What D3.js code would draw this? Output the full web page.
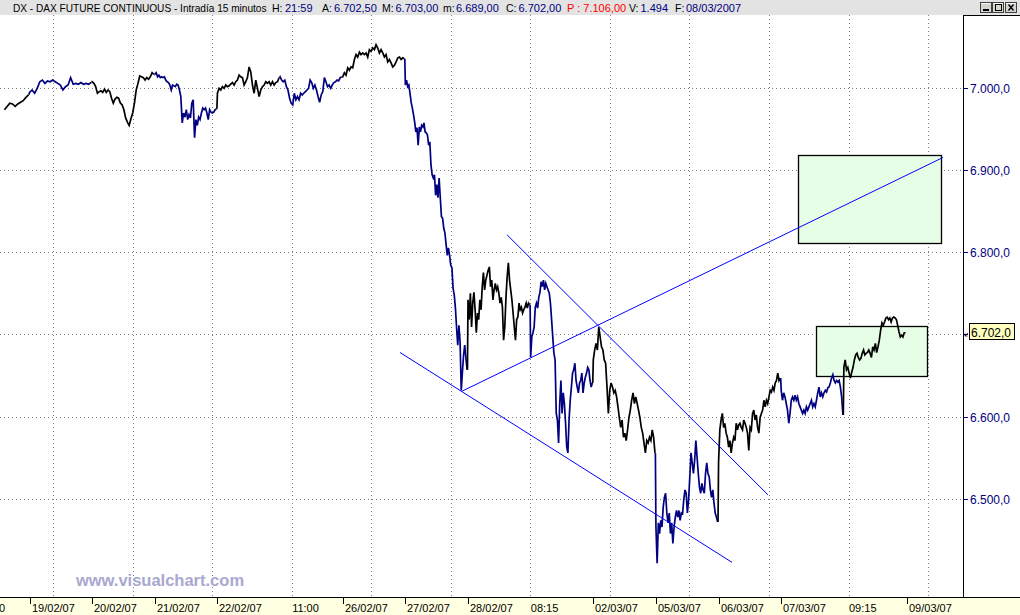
<!DOCTYPE html>
<html><head><meta charset="utf-8">
<script src="https://cdn.jsdelivr.net/npm/d3@7"></script>
<style>html,body{margin:0;padding:0;background:#fff;overflow:hidden}svg{display:block}</style>
</head><body>
<svg id="c" width="1020" height="615"></svg>
<script>
// ---------- DATA ----------
const sessionDates = ["16/02/07","19/02/07","20/02/07","21/02/07","22/02/07","23/02/07","26/02/07","27/02/07","28/02/07","01/03/07","02/03/07","05/03/07","06/03/07","07/03/07","08/03/07"];
const s1602 = [6973,6977,6981,6980,6977,6980,6982,6984,6988,6991];
const s1902 = [6994,6997,6993,6999,7007,7009,7005,7008,7007,7009,7007,7005,7003,6997,7001,7003,7012,7004,7005,7004,7006,7004,7005,7004,7006];
const s2002 = [7007,7005,7001,6993,6995,6996,6994,6998,6994,6997,6995,6987,6981,6986,6988,6987,6981,6979,6973,6963,6958,6954,6962,6969,6981,6997,7005,7014,7013,7012,7009,7012,7010,7013,7018,7016];
const s2102 = [7016,7018,7013,7015,7012,7013,7012,7013,7009,7007,7006,7003,6997,7003,7002,7001,7004,7003,6997,6989,6957,6969,6964,6973,6961,6967,6963,6981,6985,6939,6961,6954,6964,6961,6969,6975,6973,6975,6969,6961,6973,6970,6969,6970,6973,6974];
const s2202 = [6993,6999,6997,7001,6999,7003,7001,7002,7004,7006,7003,7007,7009,7015,7013,7012,7003,7007,7012,7025,7019,7003,6993,7009,6999,6989,6997,7001,7003,7007,7005,7007,7003,7007,7003,7006,7007,7012];
const s2302 = [7013,7009,7007,7009,7001,6997,6987,6981,6979,6993,6985,6989,6985,6993,6991,6993,6995,6997,6999,7009,7006,6999,7003,6997,6989,6982,6991,6995,7012,7007,7001,7003,6999,7003,7006,7007,7009,7008,7012,7013];
const s2602 = [7013,7018,7015,7024,7021,7025,7024,7034,7040,7037,7043,7040,7042,7040,7042,7037,7046,7044,7048,7046,7052,7048,7042,7046,7042,7037,7040,7031,7034,7030,7025,7027,7031,7036,7037,7034,7036,7035];
const s2702 = [7003,7009,7001,7003,6993,6982,6975,6967,6958,6946,6951,6930,6952,6946,6954,6952,6957,6946,6945,6942,6930,6934,6906,6894,6890,6894,6869,6882,6866,6890,6866,6843,6841,6829,6823,6809,6796,6805,6796,6784,6781,6756,6748,6732,6708,6687,6711,6691,6632,6654,6675,6687,6671,6657];
const s2802 = [6742,6718,6750,6709,6738,6751,6730,6702,6726,6718,6742,6730,6758,6775,6754,6766,6772,6778,6782,6758,6766,6742,6754,6762,6754,6758,6750,6738,6745,6733,6693,6709,6745,6770,6787,6766,6754,6742,6726,6709,6693,6718,6721,6738,6730,6733,6726,6730,6733,6738,6732,6738,6736];
const s0103 = [6672,6697,6702,6709,6733,6738,6732,6745,6751,6764,6758,6766,6754,6762,6758,6754,6750,6738,6718,6697,6677,6669,6604,6596,6568,6616,6644,6604,6629,6616,6592,6563,6556,6596,6620,6636,6653,6657,6665,6644,6636,6629,6641,6644,6653,6629,6641,6648,6653,6660,6657,6644,6636,6641];
const s0203 = [6669,6681,6689,6681,6709,6697,6685,6681,6669,6665,6636,6604,6632,6641,6636,6629,6632,6624,6612,6599,6587,6596,6575,6580,6571,6584,6599,6608,6620,6629,6616,6624,6616,6608,6599,6587,6580,6568,6556,6571,6568,6575,6571,6584,6575,6556];
const s0503 = [6466,6422,6471,6458,6474,6466,6490,6502,6507,6483,6471,6483,6458,6471,6446,6466,6478,6486,6478,6486,6474,6483,6482,6499,6511,6507,6483,6499,6527,6556,6544,6531,6547,6571,6551,6531,6514,6507,6519,6511,6507,6531,6544,6531,6527,6511,6502,6511,6495,6483,6478,6472];
const s0603 = [6545,6584,6596,6604,6587,6592,6580,6575,6563,6571,6556,6568,6575,6571,6592,6584,6590,6592,6587,6584,6596,6592,6587,6580,6559,6587,6584,6604,6608,6596,6602,6587,6580,6599,6604,6608,6620,6612,6620,6616,6624,6632,6630,6636,6632,6641,6644,6653,6644,6647];
const s0703 = [6632,6620,6629,6624,6616,6608,6592,6604,6620,6624,6620,6626,6620,6624,6616,6612,6608,6604,6608,6604,6612,6608,6612,6616,6620,6612,6616,6612,6620,6629,6636,6624,6629,6624,6629,6632,6630,6635,6636,6641,6647,6651,6644,6641,6644,6642,6644,6636,6624,6602];
const s0803 = [6660,6669,6657,6660,6653,6647,6654,6660,6669,6675,6677,6672,6669,6671,6677,6681,6675,6677,6678,6681,6677,6672,6685,6681,6689,6678,6685,6693,6705,6714,6711,6715,6720,6721,6718,6720,6715,6720,6721,6720,6718,6711,6703,6697,6699,6697,6702,6702];
const sessionValues = [s1602,s1902,s2002,s2102,s2202,s2302,s2602,s2702,s2802,s0103,s0203,s0503,s0603,s0703,s0803];

const yTicks = [6500,6600,6700,6800,6900,7000];
const yTickLabels = ["6.500,0","6.600,0","6.700,0","6.800,0","6.900,0","7.000,0"];
const lastValueLabel = "6.702,0";
const lastValue = 6702;

// date ticks (day index: 0 = 19/02/07)
const dateTickDays = [0,1,2,3,5,6,7,9,10,11,12,14];
const dateTickLabels = ["19/02/07","20/02/07","21/02/07","22/02/07","26/02/07","27/02/07","28/02/07","02/03/07","05/03/07","06/03/07","07/03/07","09/03/07"];
const timeTickGrid = [3,6,10];
const timeTickLabels = ["11:00","08:15","09:15"];

// trend lines [dayIndex, price]
const lowerLine = [[5.915,6678],[11.215,6423]];
const risingLine = [[6.905,6631],[14.583,6915]];
const fallingLine = [[7.623,6821],[11.789,6505]];
// boxes [day0, day1, priceTop, priceBottom]
const boxUpper = [12.268,14.55,6918,6811];
const boxLower = [12.556,14.327,6710,6650];

const titleTexts = ["DX - DAX FUTURE CONTINUOUS - Intradía 15 minutos","H:","21:59","A:","6.702,50","M:","6.703,00","m:","6.689,00","C:","6.702,00","P : 7.106,00","V:","1.494","F:","08/03/2007"];
const watermark = "www.visualchart.com";

// ---------- LAYOUT ----------
const svg = d3.select("#c");
const plotL=0, plotR=963, plotT=15, plotB=597;
const x = d3.scaleLinear().domain([0,14]).range([29.5,906.5]);
const y = d3.scaleLinear().domain([6500,7000]).range([499,87.5]);
const navy="#000080";
const F="Liberation Sans, Arial, sans-serif";

svg.append("rect").attr("width",1020).attr("height",615).attr("fill","#fff");
svg.append("defs").append("clipPath").attr("id","pc").append("rect")
  .attr("x",plotL).attr("y",plotT).attr("width",plotR-plotL).attr("height",plotB-plotT);

// title bar
svg.append("rect").attr("x",0).attr("y",0).attr("width",1020).attr("height",15).attr("fill","#e3e3e3");
const titleX = [13,272,285,322,334,382,395.5,443,456,506,518.5,567,629,640.5,675,686];
const titleC = ["#000","#000",navy,"#000",navy,"#000",navy,"#000",navy,"#000",navy,"#ff0000","#000",navy,"#000",navy];
titleTexts.forEach((t,i)=>{
  svg.append("text").attr("x",titleX[i]).attr("y",11.5).attr("fill",titleC[i])
    .attr("font-family",F).attr("font-size", i===0?"10.1px":(i%2===1 && i<11 || i===12 || i===14 ? "10.5px":"11px")).text(t);
});
// window buttons
const btns=[[980,"min"],[992,"max"],[1005,"close"]];
btns.forEach(([bx,k])=>{
  const g=svg.append("g");
  g.append("rect").attr("x",bx+0.5).attr("y",2.5).attr("width",11).attr("height",10).attr("fill","#d6d3ce").attr("stroke","#404040");
  g.append("line").attr("x1",bx+1.5).attr("y1",3.5).attr("x2",bx+10.5).attr("y2",3.5).attr("stroke","#fff");
  if(k==="min") g.append("rect").attr("x",bx+3).attr("y",9).attr("width",6).attr("height",2).attr("fill","#000");
  if(k==="max") g.append("rect").attr("x",bx+3.5).attr("y",4.5).attr("width",6).attr("height",6).attr("fill","none").attr("stroke","#000").attr("stroke-width",1);
  if(k==="close"){g.append("path").attr("d",`M${bx+3.5},${4.5}L${bx+8.5},${10.5}M${bx+8.5},${4.5}L${bx+3.5},${10.5}`).attr("stroke","#000").attr("stroke-width",1.4);}
});

const plot = svg.append("g").attr("clip-path","url(#pc)");

// grid
const gridX = d3.range(12).map(k=>53+k*79.55);
gridX.forEach(gx=>{
  plot.append("line").attr("x1",Math.round(gx)+0.5).attr("x2",Math.round(gx)+0.5).attr("y1",plotT).attr("y2",plotB)
    .attr("stroke","#808080").attr("stroke-dasharray","1,3");
});
yTicks.forEach(v=>{
  const yy=Math.round(y(v))+0.5;
  plot.append("line").attr("x1",plotL).attr("x2",plotR).attr("y1",yy).attr("y2",yy)
    .attr("stroke","#808080").attr("stroke-dasharray","1,3");
});

// boxes
[boxUpper,boxLower].forEach(b=>{
  const x0=Math.round(x(b[0]))+0.5, x1=Math.round(x(b[1]))+0.5, y0=Math.round(y(b[2]))+0.5, y1=Math.round(y(b[3]))+0.5;
  plot.append("rect").attr("x",x0).attr("y",y0).attr("width",x1-x0).attr("height",y1-y0)
    .attr("fill","#e6fde6").attr("stroke","#000").attr("stroke-width",1.3);
});

// price line
const line = d3.line();
let prev=null;
sessionValues.forEach((vals,i)=>{
  const d=i-1, f0=(i===0?0.6:0), f1=0.985, n=vals.length;
  const pts = vals.map((v,j)=>[x(d+f0+(f1-f0)*j/(n-1)), y(v)]);
  if(prev) pts.unshift([prev[0]+0.4,prev[1]]);
  prev = pts[pts.length-1];
  plot.append("path").attr("d",line(pts)).attr("fill","none")
    .attr("stroke", i%2===0?"#000":navy).attr("stroke-width",1.7).attr("stroke-linejoin","miter");
});

// trend lines
[lowerLine,risingLine,fallingLine].forEach(l=>{
  plot.append("path").attr("d",line(l.map(p=>[x(p[0]),y(p[1])]))).attr("fill","none")
    .attr("stroke","#0000ff").attr("stroke-width",1);
});

// watermark
svg.append("text").attr("x",160).attr("y",586).attr("text-anchor","middle").attr("fill","#a8a8d0")
  .attr("font-family",F).attr("font-weight","bold").attr("font-size","16.5px").text(watermark);

// right axis panel
svg.append("line").attr("x1",plotR+0.5).attr("x2",plotR+0.5).attr("y1",plotT).attr("y2",plotB).attr("stroke","#000");
svg.append("line").attr("x1",plotR).attr("x2",1020).attr("y1",plotT+0.5).attr("y2",plotT+0.5).attr("stroke","#000");
yTicks.forEach((v,i)=>{
  const yy=Math.round(y(v))+0.5;
  svg.append("line").attr("x1",plotR).attr("x2",plotR+5).attr("y1",yy).attr("y2",yy).attr("stroke",navy);
  // label hidden behind the last-value box is not drawn
  if(Math.abs(v-lastValue) < 15) return;
  svg.append("text").attr("x",plotR+7).attr("y",yy+4.5).attr("fill",navy)
    .attr("font-family",F).attr("font-size","12px").text(yTickLabels[i]);
});
// last value box
const ly=Math.round(y(lastValue));
svg.append("path").attr("d",`M${plotR+2},${ly+3}L${plotR+5},${ly}M${plotR+2},${ly+3}L${plotR+2},${ly+0.5}M${plotR+2},${ly+3}L${plotR+4.5},${ly+3}`).attr("stroke","#000").attr("stroke-width",0.8);
svg.append("rect").attr("x",plotR+6.5).attr("y",ly-9.5).attr("width",45).attr("height",16).attr("fill","#ffffc0").attr("stroke","#000");
svg.append("text").attr("x",plotR+8).attr("y",ly+3.5).attr("fill","#000")
  .attr("font-family",F).attr("font-size","12px").text(lastValueLabel);

// bottom axis
svg.append("rect").attr("x",0).attr("y",plotB).attr("width",1020).attr("height",615-plotB).attr("fill","#ffffe1");
svg.append("line").attr("x1",0).attr("x2",1020).attr("y1",plotB+0.5).attr("y2",plotB+0.5).attr("stroke","#000");
svg.append("text").attr("x",-1).attr("y",612).attr("font-family",F).attr("font-size","11px").attr("fill","#000").text("0");
dateTickDays.forEach((dd,i)=>{
  const tx=Math.round(x(dd))+0.5;
  svg.append("line").attr("x1",tx).attr("x2",tx).attr("y1",plotB).attr("y2",plotB+7).attr("stroke","#000");
  svg.append("text").attr("x",tx+1.5).attr("y",612).attr("font-family",F).attr("font-size","11px").attr("fill","#000").text(dateTickLabels[i]);
});
timeTickGrid.forEach((g,i)=>{
  svg.append("text").attr("x",gridX[g]+0.5).attr("y",612).attr("font-family",F).attr("font-size","11px").attr("fill","#000").text(timeTickLabels[i]);
});
</script>
</body></html>
